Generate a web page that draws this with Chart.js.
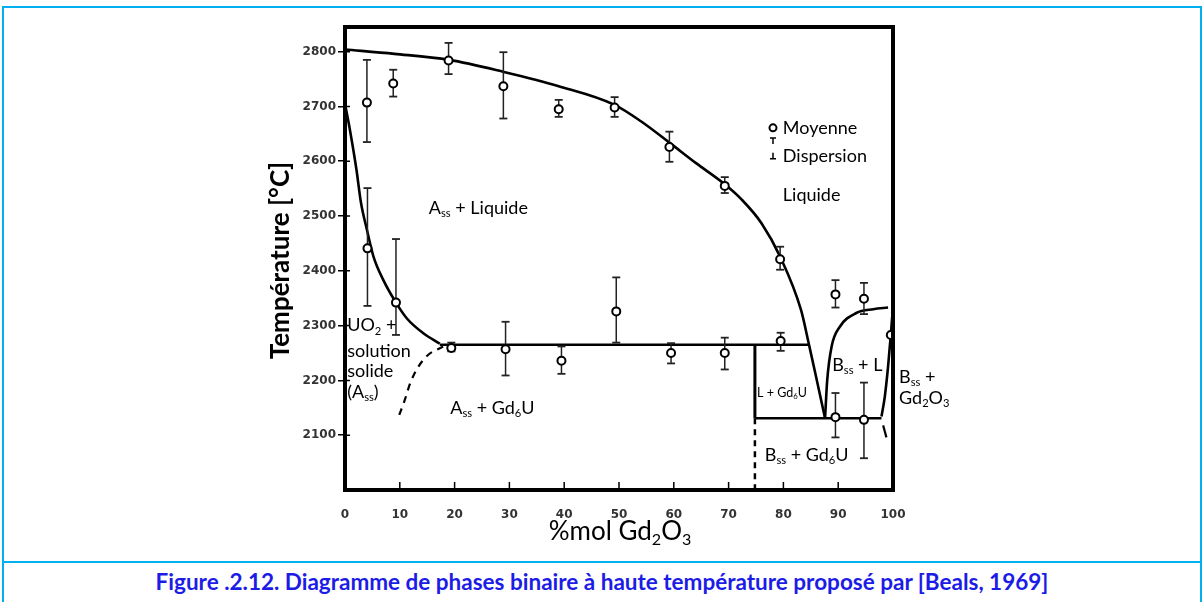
<!DOCTYPE html>
<html lang="fr">
<head>
<meta charset="utf-8">
<title>Diagramme de phases UO2 - Gd2O3</title>
<script src="https://cdn.jsdelivr.net/npm/chart.js@4.4.1/dist/chart.umd.min.js"></script>
<style>
  html, body { margin: 0; padding: 0; background: #fff; }
  body { width: 1204px; height: 602px; position: relative; overflow: hidden; }
  #frame { position: absolute; left: 2px; top: 6px; width: 1200px; height: 640px; border: 2px solid #00b0f0; box-sizing: border-box; }
  #sep { position: absolute; left: 2px; top: 561px; width: 1200px; height: 2px; background: #00b0f0; }
  #chart-wrap { position: absolute; left: 0; top: 0; width: 1204px; height: 560px; }
  #caption { position: absolute; left: 0; top: 569px; width: 1204px; text-align: center;
             font: bold 22.5px Lato, sans-serif; color: #1c1ce6; line-height: 26px; }
</style>
</head>
<body>
<div id="frame"></div>
<div id="sep"></div>
<div id="chart-wrap"><canvas id="phaseChart" width="1204" height="560"></canvas></div>
<div id="caption">Figure .2.12. Diagramme de phases binaire à haute température proposé par [Beals, 1969]</div>

<script>
// axis ticks
const xTickValues = [0, 10, 20, 30, 40, 50, 60, 70, 80, 90, 100];
const yTickValues = [2100, 2200, 2300, 2400, 2500, 2600, 2700, 2800];

// measured points (moyenne) with dispersion
const meanX = [4.0, 8.8, 18.9, 28.9, 39.0, 49.2, 59.2, 69.3, 79.4,
               4.1, 9.3, 19.4, 29.3, 39.5, 49.5, 59.5, 69.3, 79.5,
               89.5, 94.7, 99.6, 89.5, 94.7];
const meanT = [2707, 2742, 2784, 2737, 2695, 2698, 2626, 2555, 2421,
               2441, 2342, 2259, 2257, 2236, 2326, 2250, 2250, 2272,
               2357, 2349, 2283, 2133, 2128];
const dispLow = [2635, 2718, 2759, 2678, 2681, 2681, 2599, 2542, 2402,
                 2336, 2283, 2253, 2209, 2212, 2269, 2231, 2220, 2254,
                 2333, 2321, null, 2096, 2058];
const dispHigh = [2785, 2767, 2816, 2799, 2712, 2717, 2654, 2571, 2444,
                  2551, 2458, 2269, 2307, 2262, 2388, 2268, 2278, 2287,
                  2383, 2378, null, 2177, 2196];

// phase boundaries
const liquidusX = [0, 9, 19, 29, 39, 49.2, 54, 59.2, 64, 69.3, 72.4, 76, 79.4, 83.2, 84.7, 86, 87.6];
const liquidusT = [2804, 2796, 2785, 2763, 2737, 2703, 2673, 2634, 2597, 2558, 2530, 2487, 2426, 2329, 2264, 2205, 2131];

const uo2SideX = [0, 0.9, 2.1, 2.9, 4.0, 5.2, 7.0, 9.3, 11.3, 14.3, 17.3];
const uo2SideT = [2705, 2657, 2584, 2525, 2475, 2426, 2383, 2342, 2313, 2286, 2267];

const eutecticX = [17.3, 84.7];
const eutecticT = [2265, 2265];

const lowerLineX = [74.8, 97.9];
const lowerLineT = [2131, 2131];

const gd6uWallX = [74.8, 74.8];
const gd6uWallT = [2265, 2131];
const gd6uDashX = [74.8, 74.8];
const gd6uDashT = [2131, 2000];

const bssLiqX = [87.6, 88.0, 88.8, 90.3, 93.3, 96.4, 99.1];
const bssLiqT = [2131, 2201, 2262, 2298, 2323, 2330, 2333];

const bssSolX = [97.9, 98.5, 99.1, 99.6, 100];
const bssSolT = [2134, 2170, 2225, 2283, 2335];

const bssTailX = [98.2, 98.8];
const bssTailT = [2118, 2096];

const assDashX = [9.9, 10.9, 11.9, 13.2, 15.0, 17.9];
const assDashT = [2137, 2164, 2195, 2222, 2245, 2262];

const toPoints = (xs, ts) => xs.map((x, i) => ({ x, y: ts[i] }));

function errorBarPoints() {
  const pts = [];
  meanX.forEach((x, i) => {
    if (dispLow[i] == null) return;
    pts.push({ x, y: dispLow[i] }, { x, y: dispHigh[i] }, { x, y: null });
  });
  return pts;
}

function curve(xs, ts, extra) {
  return Object.assign({
    data: toPoints(xs, ts),
    showLine: true,
    pointRadius: 0,
    borderColor: '#000',
    borderWidth: 2.6,
    cubicInterpolationMode: 'monotone',
    order: 2
  }, extra || {});
}

const straight = { cubicInterpolationMode: 'default', tension: 0 };

const datasets = [
  {
    label: 'Moyenne',
    data: toPoints(meanX, meanT),
    pointStyle: 'circle',
    pointRadius: 4,
    pointBorderWidth: 2,
    pointBorderColor: '#000',
    pointBackgroundColor: '#fff',
    showLine: false,
    order: 0
  },
  {
    label: 'Dispersion',
    data: errorBarPoints(),
    showLine: true,
    spanGaps: false,
    borderColor: '#222',
    borderWidth: 1.5,
    pointStyle: 'line',
    pointRadius: 4,
    pointBorderWidth: 1.8,
    pointBorderColor: '#222',
    order: 1
  },
  curve(liquidusX, liquidusT),
  curve(uo2SideX, uo2SideT),
  curve(eutecticX, eutecticT, straight),
  curve(lowerLineX, lowerLineT, straight),
  curve(gd6uWallX, gd6uWallT, { ...straight, borderWidth: 3 }),
  curve(gd6uDashX, gd6uDashT, { ...straight, borderWidth: 2.5, borderDash: [6, 5] }),
  curve(bssLiqX, bssLiqT),
  curve(bssSolX, bssSolT),
  curve(bssTailX, bssTailT, { ...straight, borderWidth: 2.2 }),
  curve(assDashX, assDashT, { borderWidth: 2.2, borderDash: [7, 6] })
];

// region labels: [text, 'sub'] parts anchored in data units (left / middle)
const regionLabels = [
  { parts: [['A'], ['ss', 'sub'], [' + Liquide']], x: 15.3, t: 2515, size: 18 },
  { parts: [['UO'], ['2', 'sub'], [' +']], x: 0.4, t: 2300, size: 18 },
  { parts: [['solution']], x: 0.4, t: 2254, size: 18 },
  { parts: [['solide']], x: 0.4, t: 2217, size: 18 },
  { parts: [['(A'], ['ss', 'sub'], [')']], x: 0.4, t: 2179, size: 18 },
  { parts: [['A'], ['ss', 'sub'], [' + Gd'], ['6', 'sub'], ['U']], x: 19.2, t: 2150, size: 18 },
  { parts: [['Moyenne']], x: 79.9, t: 2661, size: 18 },
  { parts: [['Dispersion']], x: 79.9, t: 2610, size: 18 },
  { parts: [['Liquide']], x: 79.9, t: 2538, size: 18 },
  { parts: [['L + Gd'], ['6', 'sub'], ['U']], x: 75.2, t: 2177, size: 12.5 },
  { parts: [['B'], ['ss', 'sub'], [' + L']], x: 88.9, t: 2228, size: 18 },
  { parts: [['B'], ['ss', 'sub'], [' + Gd'], ['6', 'sub'], ['U']], x: 76.6, t: 2064, size: 18 },
  { parts: [['B'], ['ss', 'sub'], [' +']], x: 101.1, t: 2206, size: 18 },
  { parts: [['Gd'], ['2', 'sub'], ['O'], ['3', 'sub']], x: 101.1, t: 2168, size: 18 }
];

function drawRich(ctx, parts, x, y, size, weight) {
  let cx = x;
  parts.forEach(([text, kind]) => {
    const sub = kind === 'sub';
    const s = sub ? size * 0.62 : size;
    ctx.font = `${weight} ${s}px Lato, sans-serif`;
    ctx.fillText(text, cx, sub ? y + size * 0.3 : y);
    cx += ctx.measureText(text).width;
  });
  return cx;
}

function richWidth(ctx, parts, size, weight) {
  let w = 0;
  parts.forEach(([text, kind]) => {
    ctx.font = `${weight} ${kind === 'sub' ? size * 0.62 : size}px Lato, sans-serif`;
    w += ctx.measureText(text).width;
  });
  return w;
}

const decorPlugin = {
  id: 'decor',
  afterDatasetsDraw(chart) {
    const { ctx, chartArea: a, scales: { x, y } } = chart;
    ctx.save();
    ctx.strokeStyle = '#000';
    ctx.fillStyle = '#000';

    // heavy frame
    ctx.lineWidth = 4;
    ctx.strokeRect(a.left, a.top, a.right - a.left, a.bottom - a.top);

    // inner ticks
    ctx.lineWidth = 1.5;
    ctx.beginPath();
    xTickValues.slice(1, -1).forEach(v => {
      const px = x.getPixelForValue(v);
      ctx.moveTo(px, a.bottom);
      ctx.lineTo(px, a.bottom - 8);
    });
    yTickValues.forEach(v => {
      const py = y.getPixelForValue(v);
      ctx.moveTo(a.left, py);
      ctx.lineTo(a.left + 5, py);
    });
    ctx.stroke();

    // legend symbols
    const lx = x.getPixelForValue(78.1);
    const ly = y.getPixelForValue(2661);
    ctx.lineWidth = 2;
    ctx.beginPath();
    ctx.arc(lx, ly, 3.5, 0, Math.PI * 2);
    ctx.stroke();
    const ty = y.getPixelForValue(2637);
    const by = y.getPixelForValue(2608);
    ctx.lineWidth = 1.5;
    ctx.beginPath();
    ctx.moveTo(lx - 3, ty - 3); ctx.lineTo(lx + 3, ty - 3);
    ctx.moveTo(lx, ty - 3); ctx.lineTo(lx, ty + 3);
    ctx.moveTo(lx, by - 4); ctx.lineTo(lx, by + 2);
    ctx.moveTo(lx - 3, by + 2); ctx.lineTo(lx + 3, by + 2);
    ctx.stroke();

    // region labels
    ctx.textBaseline = 'middle';
    ctx.textAlign = 'left';
    regionLabels.forEach(l => {
      drawRich(ctx, l.parts, x.getPixelForValue(l.x), y.getPixelForValue(l.t), l.size, 'normal');
    });

    // x axis title, centred under plot
    const xt = [['%mol Gd'], ['2', 'sub'], ['O'], ['3', 'sub']];
    const w = richWidth(ctx, xt, 26, 'normal');
    drawRich(ctx, xt, (a.left + a.right) / 2 - w / 2 + 1, 532, 26, 'normal');

    // y axis title
    ctx.translate(281, (a.top + a.bottom) / 2 + 2);
    ctx.rotate(-Math.PI / 2);
    ctx.textAlign = 'center';
    ctx.font = 'bold 26px Lato, sans-serif';
    ctx.fillText('Température [°C]', 0, 0);
    ctx.restore();
  }
};

const tickFont = { family: 'DejaVu Sans', size: 12, weight: 'bold' };

new Chart(document.getElementById('phaseChart'), {
  type: 'scatter',
  data: { datasets },
  options: {
    responsive: false,
    animation: false,
    layout: { padding: { left: 300, right: 311, top: 27, bottom: 40 } },
    plugins: {
      legend: { display: false },
      tooltip: { enabled: false }
    },
    scales: {
      x: {
        type: 'linear',
        min: 0,
        max: 100,
        afterBuildTicks: scale => { scale.ticks = xTickValues.map(v => ({ value: v })); },
        afterFit: scale => { scale.height = 30; },
        grid: { display: false },
        border: { display: false },
        ticks: { padding: 10, color: '#333', font: tickFont, callback: v => String(v) }
      },
      y: {
        type: 'linear',
        min: 2000,
        max: 2845,
        afterBuildTicks: scale => { scale.ticks = yTickValues.map(v => ({ value: v })); },
        afterFit: scale => { scale.width = 45; },
        grid: { drawOnChartArea: false, drawTicks: true, tickLength: 7, color: '#000', lineWidth: 1.5 },
        border: { display: false },
        ticks: { padding: 2, color: '#333', font: tickFont, callback: v => String(v) }
      }
    }
  },
  plugins: [decorPlugin]
});
</script>
</body>
</html>
